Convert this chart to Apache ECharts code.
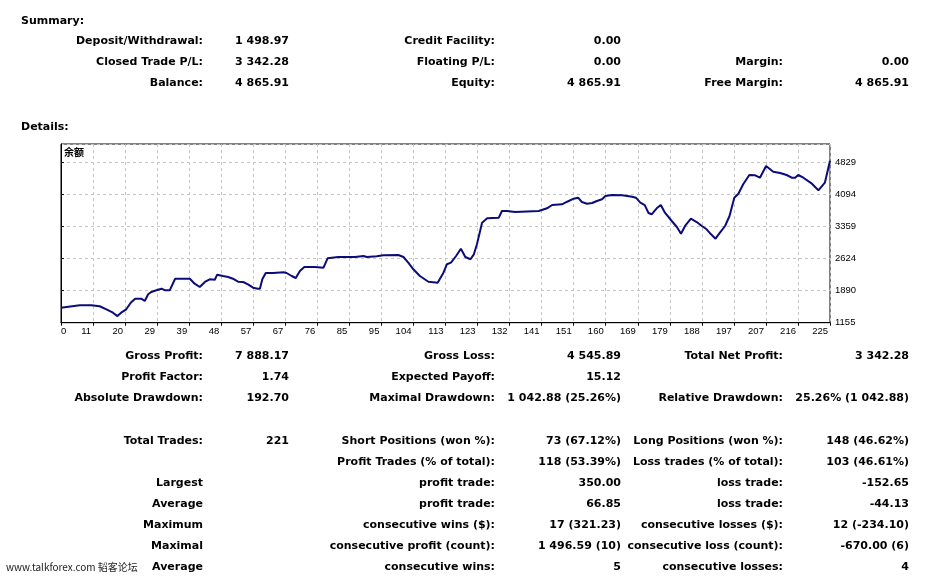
<!DOCTYPE html>
<html>
<head>
<meta charset="utf-8">
<script src="https://cdn.jsdelivr.net/npm/echarts@6/dist/echarts.min.js"></script>
<style>
html,body{margin:0;padding:0;background:#fff;}
#c{width:929px;height:579px;}
</style>
</head>
<body>
<div id="c"></div>
<script>
// ---- chart data ----
const xTickLabels = ['0','11','20','29','39','48','57','67','76','85','95','104','113','123','132','141','151','160','169','179','188','197','207','216','225'];
const yTickLabels = ['1155','1890','2624','3359','4094','4829'];

const tradeNo = [0,5.5,8.9,11.3,13.3,15.2,16.5,17.6,19.1,20.4,21.7,23.5,24.5,25.5,26.4,27.9,29.4,30.5,31.8,33.4,37.7,39.1,40.6,42.1,43.5,45.0,45.7,47.4,48.9,50.3,51.8,53.3,54.7,56.2,57.6,58.2,58.9,59.9,62.1,65.1,66.0,67.5,68.7,69.9,71.2,74.3,76.8,78.0,81.1,86.0,88.5,89.5,92.4,94.3,98.7,100.2,101.6,103.1,105.0,107.5,110.2,111.9,112.9,114.1,115.6,117.0,118.3,119.8,120.8,121.7,123.2,124.7,128.1,129.0,130.5,132.9,139.8,142.2,143.7,146.6,148.1,150.0,151.3,152.4,153.9,155.4,156.8,158.3,159.3,161.2,164.2,167.1,168.2,169.5,170.8,171.9,172.8,174.3,175.5,176.7,178.7,180.2,181.4,182.6,184.3,186.0,187.5,188.9,190.2,191.5,192.8,194.3,195.6,197.0,198.2,199.6,201.4,203.1,204.5,206.3,208.4,210.4,212.3,213.8,214.8,215.7,217.2,219.7,221.6,223.5,225.0];
const balance = [1499,1554,1554,1531,1462,1384,1306,1384,1462,1613,1705,1705,1652,1806,1858,1897,1934,1897,1897,2163,2163,2049,1973,2088,2149,2140,2255,2225,2202,2163,2094,2088,2035,1957,1934,1934,2149,2294,2294,2310,2294,2225,2179,2340,2431,2431,2415,2631,2660,2660,2683,2660,2676,2699,2706,2660,2530,2379,2225,2094,2072,2301,2493,2530,2683,2851,2660,2608,2722,2951,3446,3547,3561,3714,3714,3691,3714,3776,3852,3868,3927,3996,4019,3921,3882,3898,3944,3982,4058,4081,4074,4042,4019,3905,3850,3669,3639,3776,3852,3675,3485,3348,3194,3371,3538,3462,3371,3295,3180,3080,3217,3371,3600,4019,4111,4326,4539,4532,4477,4745,4614,4585,4539,4477,4477,4539,4477,4340,4189,4363,4866];

// ---- report text ----
const headerTitles = ['Summary:','Details:'];
const summaryRows = [
  ['Deposit/Withdrawal:','1 498.97','Credit Facility:','0.00','',''],
  ['Closed Trade P/L:','3 342.28','Floating P/L:','0.00','Margin:','0.00'],
  ['Balance:','4 865.91','Equity:','4 865.91','Free Margin:','4 865.91']
];
const detailRows = [
  ['Gross Profit:','7 888.17','Gross Loss:','4 545.89','Total Net Profit:','3 342.28'],
  ['Profit Factor:','1.74','Expected Payoff:','15.12','',''],
  ['Absolute Drawdown:','192.70','Maximal Drawdown:','1 042.88 (25.26%)','Relative Drawdown:','25.26% (1 042.88)'],
  ['Total Trades:','221','Short Positions (won %):','73 (67.12%)','Long Positions (won %):','148 (46.62%)'],
  ['','','Profit Trades (% of total):','118 (53.39%)','Loss trades (% of total):','103 (46.61%)'],
  ['Largest','','profit trade:','350.00','loss trade:','-152.65'],
  ['Average','','profit trade:','66.85','loss trade:','-44.13'],
  ['Maximum','','consecutive wins ($):','17 (321.23)','consecutive losses ($):','12 (-234.10)'],
  ['Maximal','','consecutive profit (count):','1 496.59 (10)','consecutive loss (count):','-670.00 (6)'],
  ['Average','','consecutive wins:','5','consecutive losses:','4']
];
const chartTitle = '余额';
const watermark = 'www.talkforex.com 韬客论坛';

// ---- layout ----
const colRight = [203, 289, 495, 621, 783, 909];
const summaryY = [41.5, 62.5, 83.5];
const detailY = [356.5, 377.5, 398.5, 441.5, 462.5, 483.5, 504.5, 525.5, 546.5, 567.5];
const FONT = 'bold 11px "DejaVu Sans", Verdana, sans-serif';

const graphics = [];
function addText(t, x, y, align, font, fill) {
  if (!t) return;
  graphics.push({type:'text', silent:true, x:x, y:y,
    style:{text:t, fill:fill||'#000', font:font||FONT, align:align, verticalAlign:'middle'}});
}
addText(headerTitles[0], 21, 21, 'left');
addText(headerTitles[1], 21, 127, 'left');
summaryRows.forEach((r,i)=>r.forEach((t,j)=>addText(t, colRight[j], summaryY[i], 'right')));
detailRows.forEach((r,i)=>r.forEach((t,j)=>addText(t, colRight[j], detailY[i], 'right')));
addText(chartTitle, 64, 152, 'left', 'bold 10px "Noto Sans CJK SC", sans-serif');
addText(watermark, 6, 567.5, 'left', '10px "Noto Sans CJK SC", sans-serif', '#222');

const X_STEP = 9.375, Y_MIN = 1155, Y_STEP = 734.8;
const chart = echarts.init(document.getElementById('c'), null, {renderer:'canvas'});
chart.setOption({
  animation:false,
  backgroundColor:'#fff',
  grid:{left:61, top:144, width:769, height:178.7, show:true, borderColor:'#000', borderWidth:1, backgroundColor:'#fff'},
  xAxis:{
    type:'value', min:0, max:225, interval:X_STEP,
    axisLine:{show:true, lineStyle:{color:'#000', width:1}},
    axisTick:{show:true, length:3, lineStyle:{color:'#000'}},
    axisLabel:{color:'#000', fontFamily:'"Liberation Sans", Arial, sans-serif', fontSize:9.5, margin:4, align:'right',
      alignMinLabel:'left', padding:[0,2,0,0],
      formatter:v=>{const k=Math.round(v/X_STEP); return xTickLabels[k]!==undefined?xTickLabels[k]:'';}},
    splitLine:{show:true, lineStyle:{color:'#c4c4c4', type:[3,3], width:1}}
  },
  yAxis:{
    type:'value', position:'right', min:Y_MIN, max:5249.5, interval:Y_STEP,
    axisLine:{show:true, lineStyle:{color:'#000', width:1}},
    axisTick:{show:true, length:3, lineStyle:{color:'#000'}},
    axisLabel:{color:'#000', fontFamily:'"Liberation Sans", Arial, sans-serif', fontSize:9.5, margin:5, showMaxLabel:false,
      formatter:v=>{const k=Math.round((v-Y_MIN)/Y_STEP); return (Math.abs(v-(Y_MIN+k*Y_STEP))<1 && yTickLabels[k])?yTickLabels[k]:'';}},
    splitLine:{show:true, lineStyle:{color:'#c4c4c4', type:[3,3], width:1}}
  },
  series:[{
    type:'line', showSymbol:false, symbol:'none',
    lineStyle:{color:'#0c0c78', width:2},
    data: tradeNo.map((x,i)=>[x, balance[i]])
  }],
  graphic: graphics
});
</script>
</body>
</html>
